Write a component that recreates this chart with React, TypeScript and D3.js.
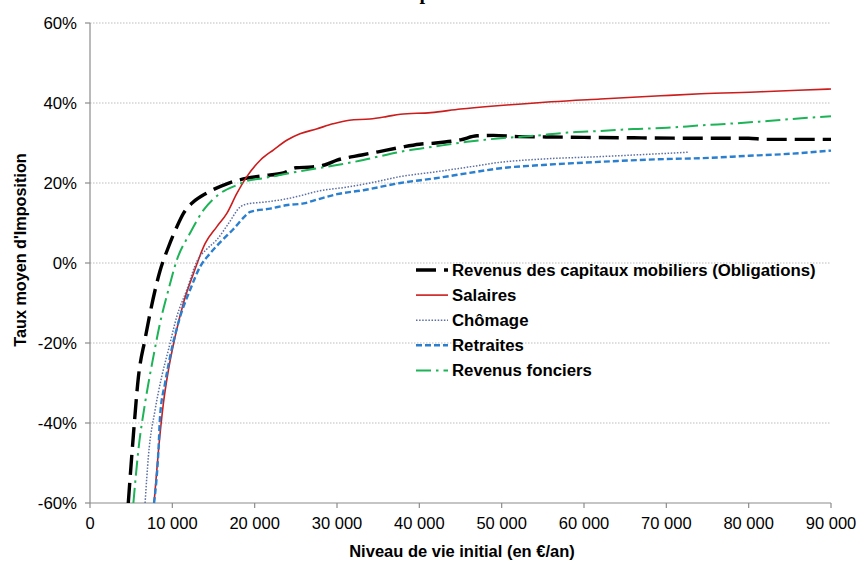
import React from "react";
import * as d3 from "d3";

const xTicks = [0, 10000, 20000, 30000, 40000, 50000, 60000, 70000, 80000, 90000];
const yTicks = [-60, -40, -20, 0, 20, 40, 60];

const capitaux: [number, number][] = [
  [4650, -60], [5270, -43], [5880, -28.5], [6690, -19], [7300, -12.5], [8500, -2],
  [9530, 4], [10540, 9], [11350, 12.4], [12570, 15.3], [14190, 17.5], [16620, 19.8],
  [19050, 21.2], [21000, 21.8], [23500, 22.5], [25000, 23.8], [27000, 24], [28500, 24.5],
  [30000, 25.7], [33000, 27], [35000, 27.8], [37700, 28.9], [40000, 29.7], [42000, 30],
  [45000, 30.8], [47000, 31.8], [49000, 31.9], [52000, 31.6], [56000, 31.5], [60000, 31.4],
  [66000, 31.3], [72000, 31.2], [80000, 31.2], [82000, 30.9], [90000, 30.9],
];

const salaires: [number, number][] = [
  [7780, -60], [8310, -47], [8920, -35], [9530, -26.7], [10340, -18.4], [11350, -10],
  [12570, -2.6], [13990, 4.9], [15410, 9.1], [16620, 12.4], [17840, 17.4], [19050, 21.6],
  [20680, 25.7], [22300, 28.3], [24000, 30.8], [25500, 32.3], [27500, 33.5], [29500, 34.8],
  [31500, 35.7], [34000, 36], [36000, 36.6], [37700, 37.2], [41400, 37.6], [45000, 38.5],
  [48700, 39.2], [52000, 39.7], [56000, 40.3], [62000, 41], [69300, 41.8], [74200, 42.3],
  [81500, 42.8], [86000, 43.2], [90000, 43.5],
];

const chomage: [number, number][] = [
  [6690, -60], [7090, -48.4], [7910, -36.7], [8710, -28.4], [9530, -21.7], [10540, -13.4],
  [11760, -6.7], [13000, 0.5], [14200, 3.5], [15400, 5.8], [16800, 9.8], [18240, 14],
  [19200, 14.8], [21080, 15.2], [23500, 15.9], [25130, 16.6], [27570, 17.9], [31620, 19.1],
  [34000, 20], [37700, 21.6], [42000, 22.8], [46000, 24], [49900, 25.2], [55000, 26],
  [62000, 26.6], [68000, 27.2], [72700, 27.7],
];

const retraites: [number, number][] = [
  [7780, -60], [8310, -47], [8510, -38.4], [9120, -30], [9730, -23.4], [10950, -13.4],
  [12160, -6.7], [13380, -0.9], [14590, 2.4], [16210, 6], [17430, 8.5], [18860, 11.8],
  [19460, 12.8], [21890, 13.6], [24000, 14.5], [25950, 14.9], [27500, 15.8], [30000, 17.2],
  [33200, 18.2], [37700, 20], [42000, 21.2], [46000, 22.5], [49900, 23.7], [55000, 24.5],
  [62000, 25.3], [70000, 26], [74200, 26.2], [80000, 26.8], [85000, 27.3], [90000, 28.1],
];

const fonciers: [number, number][] = [
  [5270, -60], [5880, -46.7], [6690, -35], [7700, -23.4], [8510, -15], [9530, -6.7],
  [10540, 0.7], [12160, 7.5], [13780, 13.2], [15810, 17.4], [17840, 19.5], [19050, 20.5],
  [21040, 21.2], [25130, 22.8], [30000, 24.5], [33200, 25.75], [35000, 26.6], [37700, 27.8],
  [41800, 29.1], [45800, 30.3], [49900, 31.2], [53900, 31.8], [58000, 32.6], [62000, 33],
  [66000, 33.5], [70100, 33.8], [74200, 34.4], [78200, 34.9], [82300, 35.5], [86400, 36.2],
  [90000, 36.7],
];

const seriesNames = [
  "Revenus des capitaux mobiliers (Obligations)",
  "Salaires",
  "Chômage",
  "Retraites",
  "Revenus fonciers",
];

const W = 858;
const H = 565;

export default function App() {
  const x = d3.scaleLinear().domain([0, 90000]).range([90, 831]);
  const y = d3.scaleLinear().domain([-60, 60]).range([503, 23]);
  const fmt = d3.formatLocale({ decimal: ",", thousands: " ", grouping: [3], currency: ["", "€"] }).format(",");
  const line = d3
    .line<[number, number]>()
    .x((d) => x(d[0]))
    .y((d) => y(d[1]))
    .curve(d3.curveMonotoneX);

  const styles = [
    { data: capitaux, stroke: "#000000", width: 3.4, dash: "20,8" },
    { data: salaires, stroke: "#cc1c1c", width: 1.6, dash: "" },
    { data: chomage, stroke: "#5b6fa3", width: 1.5, dash: "1.5,1.6" },
    { data: retraites, stroke: "#2a7fcf", width: 2.4, dash: "6,3" },
    { data: fonciers, stroke: "#1db357", width: 2, dash: "15,5,2.5,5" },
  ];

  const font = "'Liberation Sans', Arial, sans-serif";

  return (
    <svg width={W} height={H} style={{ position: "absolute", left: 0, top: 0, background: "#fff" }}>
      <rect x={0} y={0} width={W} height={H} fill="#fff" />
      <text x={425} y={-1.5} textAnchor="middle" fontFamily="'Liberation Serif', serif" fontWeight="bold" fontSize={20} fill="#000">
        p
      </text>
      {yTicks.filter((t) => t !== -60).map((t) => (
        <line key={"g" + t} x1={x(0)} x2={x(90000)} y1={y(t)} y2={y(t)} stroke="#bdbdbd" strokeWidth={1} strokeDasharray="1.5,1.5" />
      ))}
      <line x1={x(0)} x2={x(0)} y1={y(60)} y2={y(-60)} stroke="#8c8c8c" strokeWidth={1.2} />
      <line x1={x(0)} x2={x(90000)} y1={y(-60)} y2={y(-60)} stroke="#8c8c8c" strokeWidth={1.2} />
      {yTicks.map((t) => (
        <g key={"y" + t}>
          <line x1={x(0) - 5} x2={x(0)} y1={y(t)} y2={y(t)} stroke="#8c8c8c" strokeWidth={1.2} />
          <text x={77} y={y(t)} dy="0.36em" textAnchor="end" fontFamily={font} fontSize={16.8} fill="#000">
            {`${t}%`}
          </text>
        </g>
      ))}
      {xTicks.map((t) => (
        <g key={"x" + t}>
          <line x1={x(t)} x2={x(t)} y1={y(-60)} y2={y(-60) + 5} stroke="#8c8c8c" strokeWidth={1.2} />
          <text x={x(t)} y={529} textAnchor="middle" fontFamily={font} fontSize={16.5} fill="#000">
            {fmt(t)}
          </text>
        </g>
      ))}
      <text x={462} y={557} textAnchor="middle" fontFamily={font} fontWeight="bold" fontSize={16.5} fill="#000">
        Niveau de vie initial (en €/an)
      </text>
      <text transform={`translate(26,250) rotate(-90)`} textAnchor="middle" fontFamily={font} fontWeight="bold" fontSize={16.2} fill="#000">
        Taux moyen d'Imposition
      </text>
      {styles.map((s, i) => (
        <path key={"s" + i} d={line(s.data) || ""} fill="none" stroke={s.stroke} strokeWidth={s.width} strokeDasharray={s.dash || undefined} />
      ))}
      {styles.map((s, i) => {
        const ly = 270 + i * 25.1;
        return (
          <g key={"l" + i}>
            <line x1={416} x2={448} y1={ly} y2={ly} stroke={s.stroke} strokeWidth={s.width} strokeDasharray={s.dash || undefined} />
            <text x={452} y={ly} dy="0.36em" fontFamily={font} fontWeight="bold" fontSize={16.8} fill="#000">
              {seriesNames[i]}
            </text>
          </g>
        );
      })}
    </svg>
  );
}
